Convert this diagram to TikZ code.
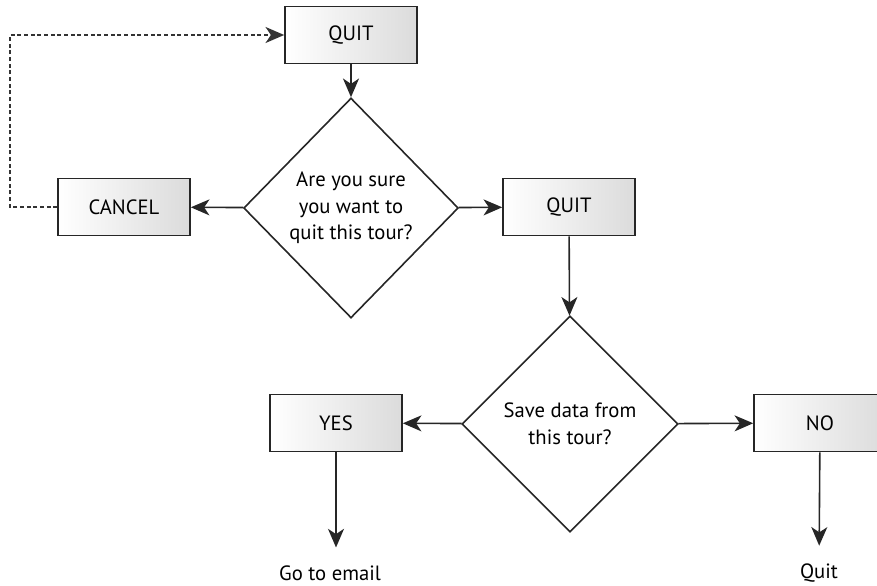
\documentclass[tikz,border=0pt]{standalone}
\usepackage{fontspec}
\setmainfont{PT Sans}
\usetikzlibrary{arrows.meta, shapes.geometric}

\begin{document}
\begin{tikzpicture}[x=0.75pt, y=-0.75pt, >={Stealth[length=14pt, width=12pt, inset=4pt]},
  box/.style={draw=black!85, line width=1.2pt, left color=white, right color=black!14,
    minimum width=99pt, minimum height=43pt, font=\fontsize{15.5}{20}\selectfont},
  ask/.style={diamond, draw=black!85, line width=1.2pt, align=center, inner sep=0pt,
    font=\fontsize{15.5}{20}\selectfont},
  link/.style={->, line width=1.2pt, draw=black!85},
  back/.style={->, line width=1.1pt, draw=black!80, dash pattern=on 3pt off 2pt}]
  \clip (0,0) rectangle (877,585);

  \node[box] (quitA) at (351,35) {QUIT};
  \node[ask, minimum width=161pt, minimum height=165pt] (sure) at (351,208)
    {Are you sure\\you want to\\quit this tour?};
  \node[box] (cancel) at (124,207) {CANCEL};
  \node[box] (quitB) at (569,207) {QUIT};
  \node[ask, minimum width=162pt, minimum height=162pt] (save) at (570,424)
    {Save data from\\this tour?};
  \node[box] (yes) at (336,423) {YES};
  \node[box] (no) at (820,423) {NO};
  \node[font=\fontsize{15.5}{18}\selectfont] (email) at (330,573) {Go to email};
  \node[font=\fontsize{15.5}{18}\selectfont] (quit) at (819,573) {Quit};
  \coordinate (bend) at (10,207);

  \draw[link] (quitA) -- (sure);
  \draw[link] (sure) -- (cancel);
  \draw[link] (sure) -- (quitB);
  \draw[link] (quitB) -- (save);
  \draw[link] (save) -- (yes);
  \draw[link] (save) -- (no);
  \draw[link, shorten >=10pt] (yes) -- (yes |- email.north);
  \draw[link, shorten >=10pt] (no) -- (quit);
  \draw[back] (cancel.west) -- (bend) |- (quitA.west);
\end{tikzpicture}
\end{document}
